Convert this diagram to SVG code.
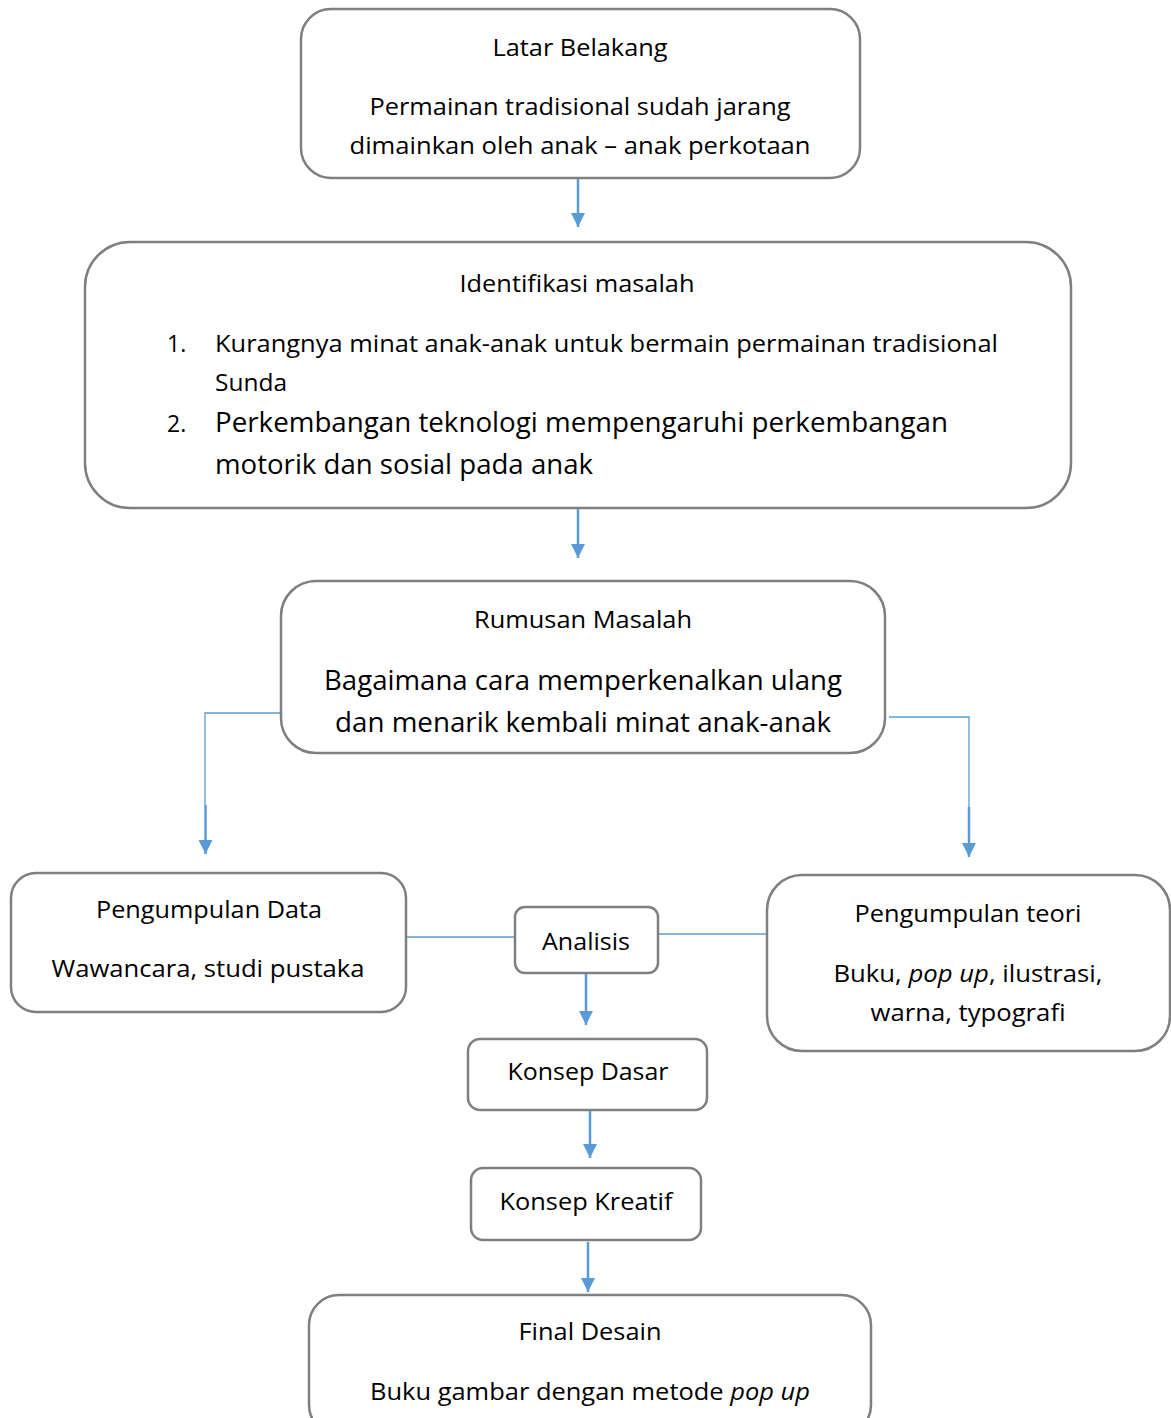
<svg xmlns="http://www.w3.org/2000/svg" width="1171" height="1418" viewBox="0 0 1171 1418">
<defs>
<style>
.box{fill:#fff;stroke:#7f7f7f;stroke-width:2.5}
.t{font-family:"Open Sans","Noto Sans","Liberation Sans",sans-serif;font-size:23px;fill:#000}
.tl{font-family:"Open Sans","Noto Sans","Liberation Sans",sans-serif;font-size:27px;fill:#000}
.c{text-anchor:middle}
.thin{fill:none;stroke:#5b9bd5;stroke-width:1.3}
.shaft{fill:none;stroke:#5b9bd5;stroke-width:2.5}
.i{font-style:italic}
</style>
<marker id="ah" markerWidth="14" markerHeight="14" viewBox="0 0 14 14" refX="14" refY="7" orient="auto" markerUnits="userSpaceOnUse">
<path d="M0,0 L14,7 L0,14 Z" fill="#5b9bd5"/>
</marker>
</defs>
<rect width="1171" height="1418" fill="#fff"/>

<g id="connectors">
<line class="shaft" x1="578" y1="178" x2="578" y2="227" marker-end="url(#ah)"/>
<line class="shaft" x1="578" y1="508" x2="578" y2="558" marker-end="url(#ah)"/>
<polyline class="thin" points="285,713 205,713 205,806"/>
<line class="shaft" x1="205.5" y1="805" x2="205.5" y2="854" marker-end="url(#ah)"/>
<polyline class="thin" points="889,717 969,717 969,808"/>
<line class="shaft" x1="969" y1="807" x2="969" y2="857" marker-end="url(#ah)"/>
<line class="thin" x1="406" y1="937" x2="515" y2="937"/>
<line class="thin" x1="658" y1="934" x2="767" y2="934"/>
<line class="shaft" x1="586" y1="973" x2="586" y2="1025" marker-end="url(#ah)"/>
<line class="shaft" x1="590" y1="1110" x2="590" y2="1158" marker-end="url(#ah)"/>
<line class="shaft" x1="588" y1="1242" x2="588" y2="1292" marker-end="url(#ah)"/>
</g>

<g id="latar-belakang">
<rect class="box" x="301" y="9" width="559" height="169" rx="30"/>
<text class="t c" x="580" y="56" textLength="175" lengthAdjust="spacingAndGlyphs">Latar Belakang</text>
<text class="t c" x="580" y="115" textLength="421" lengthAdjust="spacingAndGlyphs">Permainan tradisional sudah jarang</text>
<text class="t c" x="580" y="154" textLength="461" lengthAdjust="spacingAndGlyphs">dimainkan oleh anak – anak perkotaan</text>
</g>

<g id="identifikasi-masalah">
<rect class="box" x="85" y="242" width="986" height="266" rx="45"/>
<text class="t c" x="577" y="292" textLength="235" lengthAdjust="spacingAndGlyphs">Identifikasi masalah</text>
<text class="t" x="167" y="352">1.</text>
<text class="t" x="215" y="352" textLength="783" lengthAdjust="spacingAndGlyphs">Kurangnya minat anak-anak untuk bermain permainan tradisional</text>
<text class="t" x="215" y="391" textLength="72" lengthAdjust="spacingAndGlyphs">Sunda</text>
<text class="t" x="167" y="432">2.</text>
<text class="tl" x="215" y="432" textLength="733" lengthAdjust="spacingAndGlyphs">Perkembangan teknologi mempengaruhi perkembangan</text>
<text class="tl" x="215" y="474" textLength="378" lengthAdjust="spacingAndGlyphs">motorik dan sosial pada anak</text>
</g>

<g id="rumusan-masalah">
<rect class="box" x="281" y="581" width="604" height="172" rx="35"/>
<text class="t c" x="583" y="628" textLength="218" lengthAdjust="spacingAndGlyphs">Rumusan Masalah</text>
<text class="tl c" x="583" y="690" textLength="518" lengthAdjust="spacingAndGlyphs">Bagaimana cara memperkenalkan ulang</text>
<text class="tl c" x="583" y="732" textLength="496" lengthAdjust="spacingAndGlyphs">dan menarik kembali minat anak-anak</text>
</g>

<g id="pengumpulan-data">
<rect class="box" x="11" y="873" width="395" height="139" rx="25"/>
<text class="t c" x="209" y="918" textLength="226" lengthAdjust="spacingAndGlyphs">Pengumpulan Data</text>
<text class="t c" x="208" y="977" textLength="313" lengthAdjust="spacingAndGlyphs">Wawancara, studi pustaka</text>
</g>

<g id="analisis">
<rect class="box" x="515" y="907" width="143" height="66" rx="10"/>
<text class="t c" x="586" y="950" textLength="88" lengthAdjust="spacingAndGlyphs">Analisis</text>
</g>

<g id="pengumpulan-teori">
<rect class="box" x="767" y="875" width="403" height="176" rx="35"/>
<text class="t c" x="968" y="922" textLength="227" lengthAdjust="spacingAndGlyphs">Pengumpulan teori</text>
<text class="t c" x="968" y="982" textLength="269" lengthAdjust="spacingAndGlyphs">Buku, <tspan class="i">pop up</tspan>, ilustrasi,</text>
<text class="t c" x="968" y="1021" textLength="195" lengthAdjust="spacingAndGlyphs">warna, typografi</text>
</g>

<g id="konsep-dasar">
<rect class="box" x="468" y="1039" width="239" height="71" rx="12"/>
<text class="t c" x="588" y="1080" textLength="161" lengthAdjust="spacingAndGlyphs">Konsep Dasar</text>
</g>

<g id="konsep-kreatif">
<rect class="box" x="471" y="1168" width="230" height="72" rx="12"/>
<text class="t c" x="586" y="1210" textLength="173" lengthAdjust="spacingAndGlyphs">Konsep Kreatif</text>
</g>

<g id="final-desain">
<rect class="box" x="309" y="1295" width="562" height="140" rx="30"/>
<text class="t c" x="590" y="1340" textLength="143" lengthAdjust="spacingAndGlyphs">Final Desain</text>
<text class="t c" x="590" y="1400" textLength="440" lengthAdjust="spacingAndGlyphs">Buku gambar dengan metode <tspan class="i">pop up</tspan></text>
</g>
</svg>
